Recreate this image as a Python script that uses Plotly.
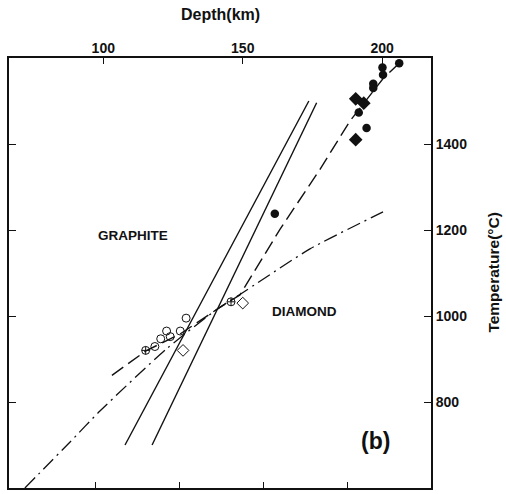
import plotly.graph_objects as go

# ---- data (depth in km, temperature in deg C) ----
boundary1_depth = [107.8, 173.7]
boundary1_temp = [700, 1500]
boundary2_depth = [117.5, 176.5]
boundary2_temp = [700, 1496]

geotherm_depth = [103.1, 115.3, 127.5, 141.1, 149.0, 163.4, 177.7, 188.4, 200.4, 206.1]
geotherm_temp = [862, 919, 958, 1017, 1049, 1202, 1341, 1453, 1553, 1588]

dashdot_depth = [71.9, 88.1, 98.8, 122.9, 141.1, 149.0, 174.1, 200.3]
dashdot_temp = [600, 707, 779, 925, 1017, 1050, 1156, 1242]

open_circle_depth = [118.5, 120.6, 122.7, 124.0, 127.6, 129.7]
open_circle_temp = [929, 947, 965, 952, 965, 995]

cross_circle_depth = [115.2, 145.8]
cross_circle_temp = [920, 1033]

open_diamond_depth = [128.6, 150.0]
open_diamond_temp = [920, 1030]

filled_circle_depth = [206.1, 200.1, 200.3, 196.8, 196.8, 191.6, 194.4, 161.5]
filled_circle_temp = [1588, 1578, 1561, 1540, 1530, 1473, 1437, 1238]

filled_diamond_depth = [190.5, 193.4, 190.5]
filled_diamond_temp = [1505, 1495, 1410]

depth_ticks = [100, 150, 200]
temp_ticks = [800, 1000, 1200, 1400]
pressure_ticks_gpa = [3, 4, 5, 6]

FONT = "Liberation Sans"
BLACK = "#111111"

fig = go.Figure()

line_common = dict(mode="lines", showlegend=False, hoverinfo="skip")
fig.add_trace(go.Scatter(x=boundary1_depth, y=boundary1_temp,
                         line=dict(color=BLACK, width=1.4), **line_common))
fig.add_trace(go.Scatter(x=boundary2_depth, y=boundary2_temp,
                         line=dict(color=BLACK, width=1.4), **line_common))
fig.add_trace(go.Scatter(x=geotherm_depth, y=geotherm_temp,
                         line=dict(color=BLACK, width=1.4, dash="14px,6px"), **line_common))
fig.add_trace(go.Scatter(x=dashdot_depth, y=dashdot_temp,
                         line=dict(color=BLACK, width=1.3, dash="14px,5px,2px,5px",
                                   shape="spline", smoothing=0.6), **line_common))

mk = dict(mode="markers", showlegend=False, hoverinfo="skip")
fig.add_trace(go.Scatter(x=open_circle_depth, y=open_circle_temp,
                         marker=dict(symbol="circle-open", size=8, color=BLACK,
                                     line=dict(width=1, color=BLACK)), **mk))
fig.add_trace(go.Scatter(x=cross_circle_depth, y=cross_circle_temp,
                         marker=dict(symbol="circle-cross-open", size=8, color=BLACK,
                                     line=dict(width=1, color=BLACK)), **mk))
fig.add_trace(go.Scatter(x=open_diamond_depth, y=open_diamond_temp,
                         marker=dict(symbol="diamond-open", size=9, color=BLACK,
                                     line=dict(width=1, color=BLACK)), **mk))
fig.add_trace(go.Scatter(x=filled_circle_depth, y=filled_circle_temp,
                         marker=dict(symbol="circle", size=8.5, color=BLACK), **mk))
fig.add_trace(go.Scatter(x=filled_diamond_depth, y=filled_diamond_temp,
                         marker=dict(symbol="diamond", size=10.5, color=BLACK), **mk))

# invisible trace to bring the bottom (pressure) tick axis into existence
fig.add_trace(go.Scatter(x=pressure_ticks_gpa, y=[None] * len(pressure_ticks_gpa),
                         xaxis="x2", yaxis="y", mode="markers", showlegend=False,
                         hoverinfo="skip", marker=dict(opacity=0)))

tickfont = dict(family=FONT, size=14, color=BLACK, weight="bold")

fig.update_layout(
    width=506, height=494,
    margin=dict(l=9, r=75, t=58, b=4),
    paper_bgcolor="white", plot_bgcolor="white",
    showlegend=False,
    xaxis=dict(side="top", range=[66.2, 217.5], tickvals=depth_ticks,
               ticks="inside", ticklen=6, tickwidth=1.2, tickcolor=BLACK,
               showline=True, linecolor=BLACK, linewidth=2, mirror=True,
               showgrid=False, zeroline=False, tickfont=tickfont,
               ticklabelstandoff=-3),
    xaxis2=dict(overlaying="x", side="bottom", range=[1.976, 7.0],
                tickvals=pressure_ticks_gpa, showticklabels=False,
                ticks="inside", ticklen=6, tickwidth=1.2, tickcolor=BLACK,
                showline=False, showgrid=False, zeroline=False),
    yaxis=dict(side="right", range=[600, 1600], tickvals=temp_ticks,
               ticks="inside", ticklen=7, tickwidth=1.2, tickcolor=BLACK,
               showline=True, linecolor=BLACK, linewidth=2, mirror="ticks",
               showgrid=False, zeroline=False, tickfont=tickfont),
)

ann_font = dict(family=FONT, size=13.5, color=BLACK, weight="bold")
fig.add_annotation(x=110.8, y=1187, text="GRAPHITE", showarrow=False, font=ann_font)
fig.add_annotation(x=172.0, y=1010, text="DIAMOND", showarrow=False, font=ann_font)
fig.add_annotation(x=197.5, y=709, text="(b)", showarrow=False,
                   font=dict(family=FONT, size=23, color=BLACK, weight="bold"))
fig.add_annotation(xref="paper", yref="paper", x=0.5, y=1.102, text="Depth(km)",
                   showarrow=False, yanchor="middle",
                   font=dict(family=FONT, size=16, color=BLACK, weight="bold"))
fig.add_annotation(xref="paper", yref="paper", x=1.148, y=0.502, text="Temperature(°C)",
                   showarrow=False, textangle=-90, xanchor="center", yanchor="middle",
                   font=dict(family=FONT, size=15.5, color=BLACK, weight="bold"))

fig.write_html("out.html")
